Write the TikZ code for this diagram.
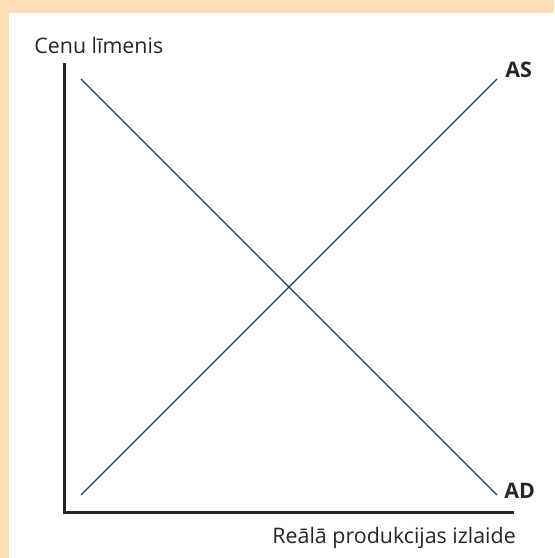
\documentclass[tikz,border=0pt]{standalone}
\usepackage{fontspec}
\setmainfont{Open Sans}
\usepackage{xcolor}
\usetikzlibrary{positioning}
\definecolor{bgpeach}{RGB}{253,220,185}
\definecolor{curveblue}{RGB}{22,62,112}
\tikzset{
    axis/.style={line width=1.5pt,black!85},
    curve/.style={line width=0.7pt,curveblue},
    lbl/.style={inner sep=0pt,font=\fontsize{10.7}{13}\selectfont,text=black!85},
}
\begin{document}
\begin{tikzpicture}[x=0.5pt,y=0.5pt]
                \useasboundingbox (0,0) rectangle (554,558);
                \fill[bgpeach](0,0) rectangle (554,558);
                \fill[white](9,0) rectangle (554,545);
                \coordinate (O) at (64,45);
                \coordinate (ytop) at (64,495);
                \coordinate (xend) at (514,45);
                \draw[axis](ytop)--(O)--(xend);
                \coordinate (ad1) at (81,479);
                \coordinate (ad2) at (497,63);
                \coordinate (as1) at (81,63);
                \coordinate (as2) at (497,479);
                \draw[curve](ad1)--(ad2);
                \draw[curve](as1)--(as2);
                \node[lbl,anchor=base west] at (34,504)(ylab){Cenu līmenis};
                \node[lbl,anchor=base west] at (272,15)(xlab){Reālā produkcijas izlaide};
                \node[lbl,anchor=base west,font=\fontsize{10.7}{13}\selectfont\bfseries] at (505,480)(AS){AS};
                \node[lbl,anchor=base west,font=\fontsize{10.7}{13}\selectfont\bfseries] at (504,60)(AD){AD};
            \end{tikzpicture}
\end{document}
